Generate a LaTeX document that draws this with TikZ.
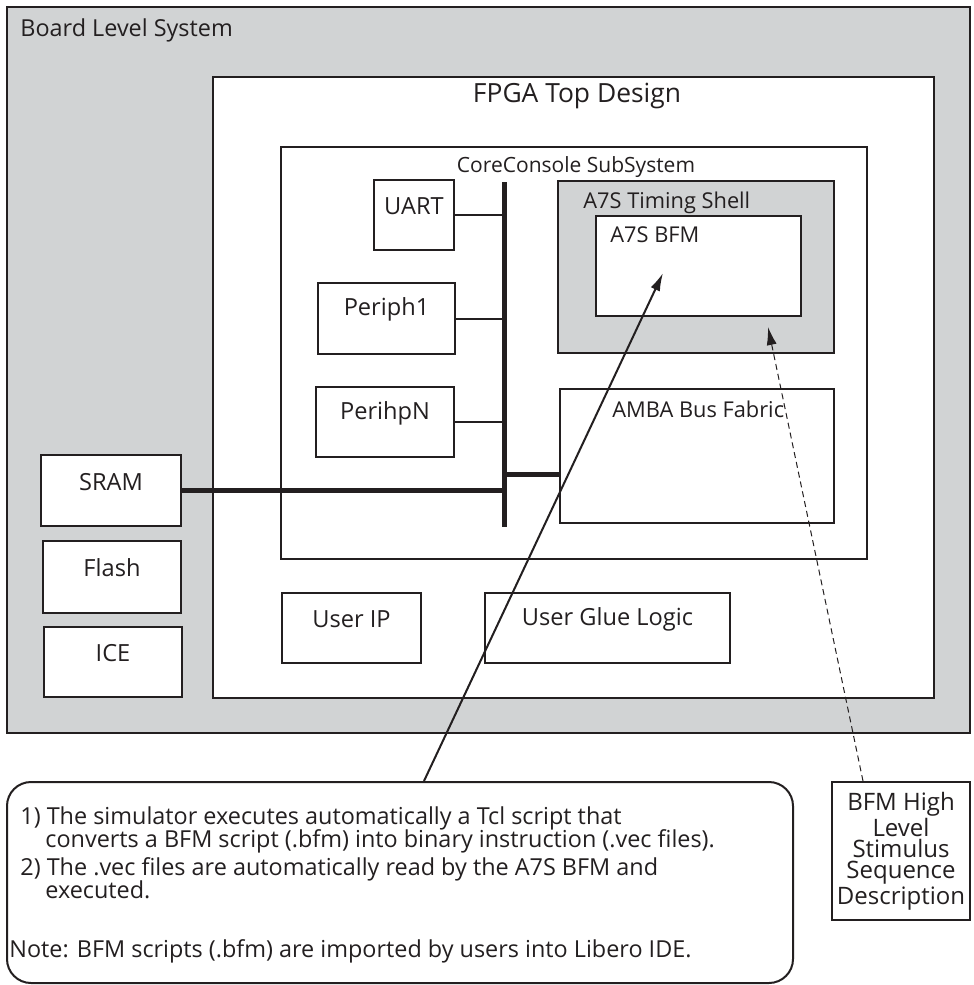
\documentclass[tikz,border=0pt]{standalone}
\usepackage{fontspec}
\setmainfont{Open Sans}
\usetikzlibrary{positioning,fit,arrows.meta}
\definecolor{boardgray}{HTML}{D1D3D4}
\definecolor{ink}{HTML}{231F20}

\begin{document}
\begin{tikzpicture}[x=0.5pt,y=-0.5pt,>={Latex[length=9pt,width=5pt]},
  box/.style={draw=ink,line width=1pt,inner sep=0pt,fill=white,text=ink,font=\fontsize{11.8}{13}\selectfont},
  title/.style={text=ink,inner sep=0pt,font=\fontsize{11.7}{13}\selectfont},
  small/.style={text=ink,inner sep=0pt,font=\fontsize{10.9}{12}\selectfont},
  notetext/.style={text=ink,inner sep=0pt,anchor=base west,font=\fontsize{11.7}{13}\selectfont},
  bus/.style={draw=ink,line width=2.5pt},
  link/.style={draw=ink,line width=1pt}]
  \useasboundingbox (0,0) rectangle (974,985);

  \node[box,fill=boardgray,fit={(7,7) (970,733)}] (board) {};
  \node[title,anchor=base west] (boardlbl) at (20,36) {Board Level System};
  \node[box,fit={(213,77) (934,698)}] (fpga) {};
  \node[title,anchor=base,font=\fontsize{13.2}{15}\selectfont] (fpgalbl) at (577,102) {FPGA Top Design};
  \node[box,fit={(281,147) (867,559)}] (core) {};
  \node[small,anchor=base,font=\fontsize{10.5}{12}\selectfont] (corelbl) at (576,172) {CoreConsole SubSystem};

  \node[box,fit={(374,180) (454,250)}] (uart) {UART};
  \node[box,fit={(318,283) (455,354)}] (periph1) {Periph1};
  \node[box,fit={(316,387) (454,457)}] (periphn) {PerihpN};

  \node[box,fill=boardgray,fit={(558,181) (834,353)}] (shell) {};
  \node[small,anchor=base west] (shelllbl) at (583,208) {A7S Timing Shell};
  \node[box,fit={(596,216) (801,316)}] (a7s) {};
  \node[small,anchor=base west] (a7slbl) at (610,242) {A7S BFM};
  \node[box,fit={(560,389) (834,523)}] (amba) {};
  \node[small,anchor=base west] (ambalbl) at (612,417) {AMBA Bus Fabric};

  \node[box,fit={(41,455) (181,526)}] (sram) {SRAM};
  \node[box,fit={(43,541) (181,613)}] (flash) {Flash};
  \node[box,fit={(44,627) (182,697)}] (ice) {ICE};
  \node[box,fit={(282,593) (421,663)}] (userip) {User IP};
  \node[box,fit={(485,593) (730,663)}] (glue) {User Glue Logic};

  \coordinate (bustop) at (504,182);
  \coordinate (busbot) at (504,527);
  \coordinate (ambain) at (560,474);
  \draw[bus] (bustop) -- (busbot);
  \draw[link] (uart) -- (uart -| bustop);
  \draw[link] (periph1) -- (periph1 -| bustop);
  \draw[link] (periphn) -- (periphn -| bustop);
  \draw[bus] (sram) -- (sram -| bustop);
  \draw[bus] (ambain -| bustop) -- (ambain);

  \node[box,fill=none,rounded corners=12pt,fit={(7,782) (793,983)}] (note) {};
  \node[notetext] (note1) at (20,824) {1) The simulator executes automatically a Tcl script that};
  \node[notetext] (note2) at (45,847) {converts a BFM script (.bfm) into binary instruction (.vec files).};
  \node[notetext] (note3) at (20,875) {2) The .vec files are automatically read by the A7S BFM and};
  \node[notetext] (note4) at (45,898) {executed.};
  \node[notetext] (note5) at (9,957) {Note: BFM scripts (.bfm) are imported by users into Libero IDE.};

  \node[box,align=center,minimum width=69pt,minimum height=69pt,
    font=\fontsize{12}{10.6}\selectfont] (stim) at (901,851)
    {BFM High\\Level\\Stimulus\\Sequence\\Description};

  \coordinate (bfmtip) at (663,273);
  \coordinate (shelltip) at (768,327);
  \draw[->,draw=ink,line width=1pt] ([xshift=12pt]note.north) -- (bfmtip);
  \draw[->,draw=ink,line width=0.5pt,dash pattern=on 3pt off 2pt] ([xshift=-19pt]stim.north) -- (shelltip);
\end{tikzpicture}
\end{document}
